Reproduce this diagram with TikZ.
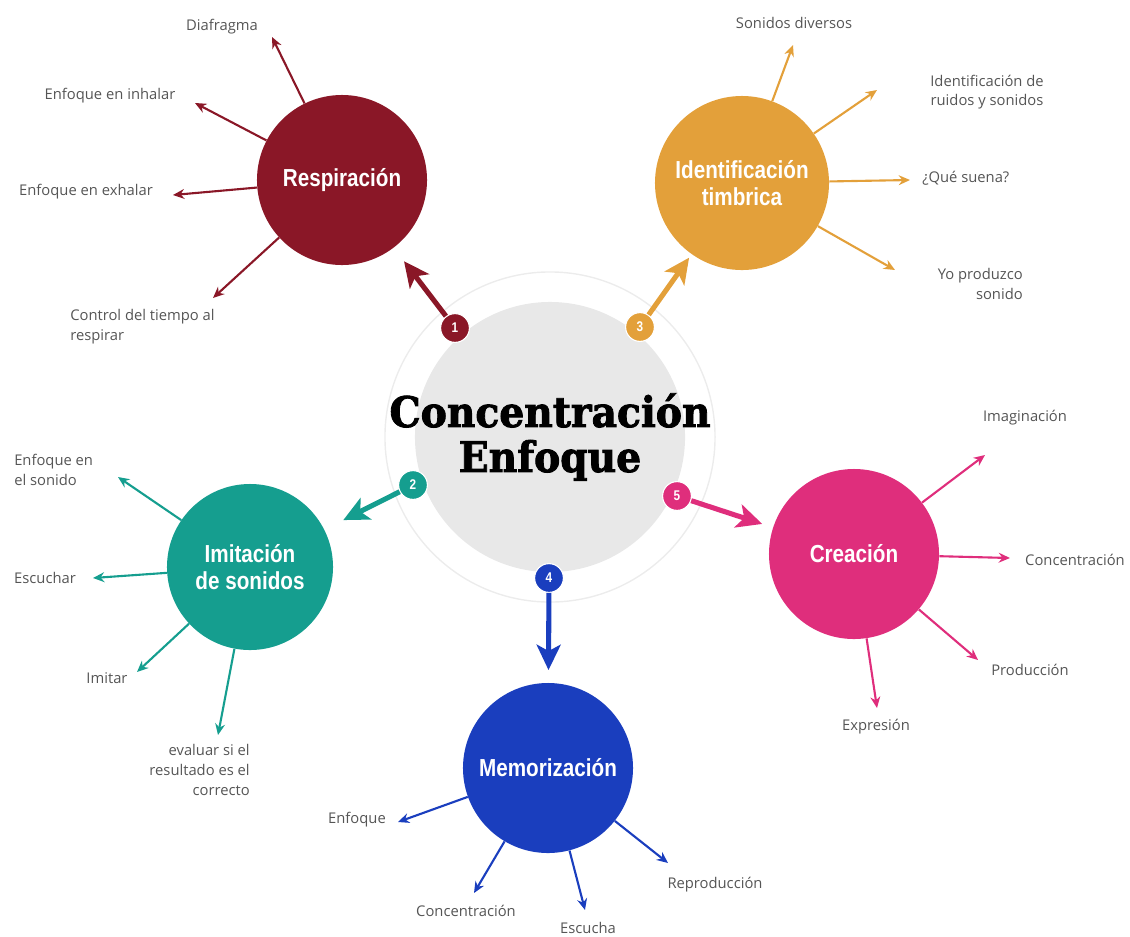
\documentclass[tikz,border=0pt]{standalone}
\usepackage{fontspec}
\setmainfont{Open Sans}
\newfontfamily\temafont[FakeStretch=0.84]{Liberation Sans}
\newfontfamily\titulofont[FakeStretch=0.93,BoldFeatures={FakeStretch=0.93,FakeBold=2}]{DejaVu Serif}
\usetikzlibrary{arrows.meta}
\definecolor{respcol}{HTML}{8A1727}
\definecolor{identcol}{HTML}{E3A03A}
\definecolor{imitcol}{HTML}{159E8F}
\definecolor{creacol}{HTML}{DF2E7C}
\definecolor{memcol}{HTML}{1A3EBE}
\definecolor{gristexto}{HTML}{555555}

\begin{document}
\begin{tikzpicture}[x=0.025cm,y=-0.025cm,
	tema/.style={circle,fill=#1,minimum size=4.25cm,inner sep=0pt,align=center,
		text=white,font=\temafont\bfseries\fontsize{17.5}{19}\selectfont},
	insignia/.style={circle,fill=#1,draw=white,line width=0.8pt,minimum size=0.72cm,
		inner sep=0pt,text=white,font=\temafont\bfseries\fontsize{10}{10}\selectfont},
	etiqueta/.style={inner sep=0pt,text=gristexto,font=\fontsize{10.5}{14}\selectfont},
	rama/.style={draw=#1,line width=1.5pt,-{Stealth[length=8pt,width=7pt]}},
	flecha/.style={draw=#1,line width=3.6pt,-{Stealth[length=18pt,width=17pt,inset=4.5pt]}}]
	\useasboundingbox (0,0) rectangle (1130,936);

	\node[circle,draw=gray!15,line width=1pt,minimum size=8.25cm] (anillo) at (550,437) {};
	\node[circle,fill=gray!18,minimum size=6.75cm,inner sep=0pt] (centro) at (550,437) {};
	\node[align=center,inner sep=0pt,font=\titulofont\bfseries\fontsize{30}{32}\selectfont]
		(titulo) at (centro) {Concentración\\Enfoque};

	\node[tema=respcol]  (resp)  at (342,180) {Respiración};
	\node[tema=identcol,minimum size=4.35cm] (ident) at (742,183) {Identificación\\timbrica};
	\node[tema=imitcol,minimum size=4.15cm]  (imit)  at (250,567) {Imitación\\de sonidos};
	\node[tema=creacol]  (crea)  at (854,554) {Creación};
	\node[tema=memcol]   (mem)   at (548,768) {Memorización};

	\node[insignia=respcol]  (b1) at (455,328) {1};
	\node[insignia=imitcol]  (b2) at (413,485) {2};
	\node[insignia=identcol] (b3) at (640,327) {3};
	\node[insignia=memcol]   (b4) at (549,578) {4};
	\node[insignia=creacol]  (b5) at (677,496) {5};

	\draw[flecha=respcol,shorten >=12pt]  (b1) -- (resp);
	\draw[flecha=imitcol,shorten >=15pt]  (b2) -- (imit);
	\draw[flecha=identcol,shorten >=3pt]  (b3) -- (ident);
	\draw[flecha=memcol,shorten >=9pt]    (b4) -- (mem);
	\draw[flecha=creacol,shorten >=8pt]   (b5) -- (crea);

	% Respiración
	\node[etiqueta] (r1) at (222,27) {Diafragma};
	\node[etiqueta] (r2) at (110,96) {Enfoque en inhalar};
	\node[etiqueta] (r3) at (86,192) {Enfoque en exhalar};
	\node[etiqueta,align=left,anchor=north west] (r4) at (70,309) {Control del tiempo al\\respirar};
	\coordinate (rp1) at (272,37);
	\coordinate (rp2) at (195,103);
	\coordinate (rp3) at (173,195);
	\coordinate (rp4) at (213,298);
	\foreach \p in {rp1,rp2,rp3,rp4}
		\draw[rama=respcol] (resp) -- (\p);

	% Identificación
	\node[etiqueta] (i1) at (794,23) {Sonidos diversos};
	\node[etiqueta,align=center] (i2) at (987,92) {Identificación de\\ruidos y sonidos};
	\node[etiqueta,anchor=west] (i3) at (922,178) {¿Qué suena?};
	\node[etiqueta,align=right,anchor=east] (i4) at (1023,284) {Yo produzco\\sonido};
	\coordinate (ip1) at (793,45);
	\coordinate (ip2) at (877,90);
	\coordinate (ip3) at (910,180);
	\coordinate (ip4) at (895,270);
	\foreach \p in {ip1,ip2,ip3,ip4}
		\draw[rama=identcol] (ident) -- (\p);

	% Imitación
	\node[etiqueta,align=left,anchor=west] (m1) at (14,470) {Enfoque en\\el sonido};
	\node[etiqueta] (m2) at (45,578) {Escuchar};
	\node[etiqueta] (m3) at (107,678) {Imitar};
	\node[etiqueta,align=right,anchor=east] (m4) at (250,770) {evaluar si el\\resultado es el\\correcto};
	\coordinate (mp1) at (118,477);
	\coordinate (mp2) at (93,578);
	\coordinate (mp3) at (137,672);
	\coordinate (mp4) at (218,735);
	\foreach \p in {mp1,mp2,mp3,mp4}
		\draw[rama=imitcol] (imit) -- (\p);

	% Creación
	\node[etiqueta] (c1) at (1025,418) {Imaginación};
	\node[etiqueta] (c2) at (1075,560) {Concentración};
	\node[etiqueta] (c3) at (1030,670) {Producción};
	\node[etiqueta] (c4) at (876,727) {Expresión};
	\coordinate (cp1) at (985,455);
	\coordinate (cp2) at (1010,558);
	\coordinate (cp3) at (978,660);
	\coordinate (cp4) at (877,708);
	\foreach \p in {cp1,cp2,cp3,cp4}
		\draw[rama=creacol] (crea) -- (\p);

	% Memorización
	\node[etiqueta] (e1) at (357,820) {Enfoque};
	\node[etiqueta] (e2) at (466,911) {Concentración};
	\node[etiqueta] (e3) at (588,928) {Escucha};
	\node[etiqueta] (e4) at (715,885) {Reproducción};
	\coordinate (ep1) at (398,822);
	\coordinate (ep2) at (474,893);
	\coordinate (ep3) at (585,910);
	\coordinate (ep4) at (668,863);
	\foreach \p in {ep1,ep2,ep3,ep4}
		\draw[rama=memcol] (mem) -- (\p);
\end{tikzpicture}
\end{document}
